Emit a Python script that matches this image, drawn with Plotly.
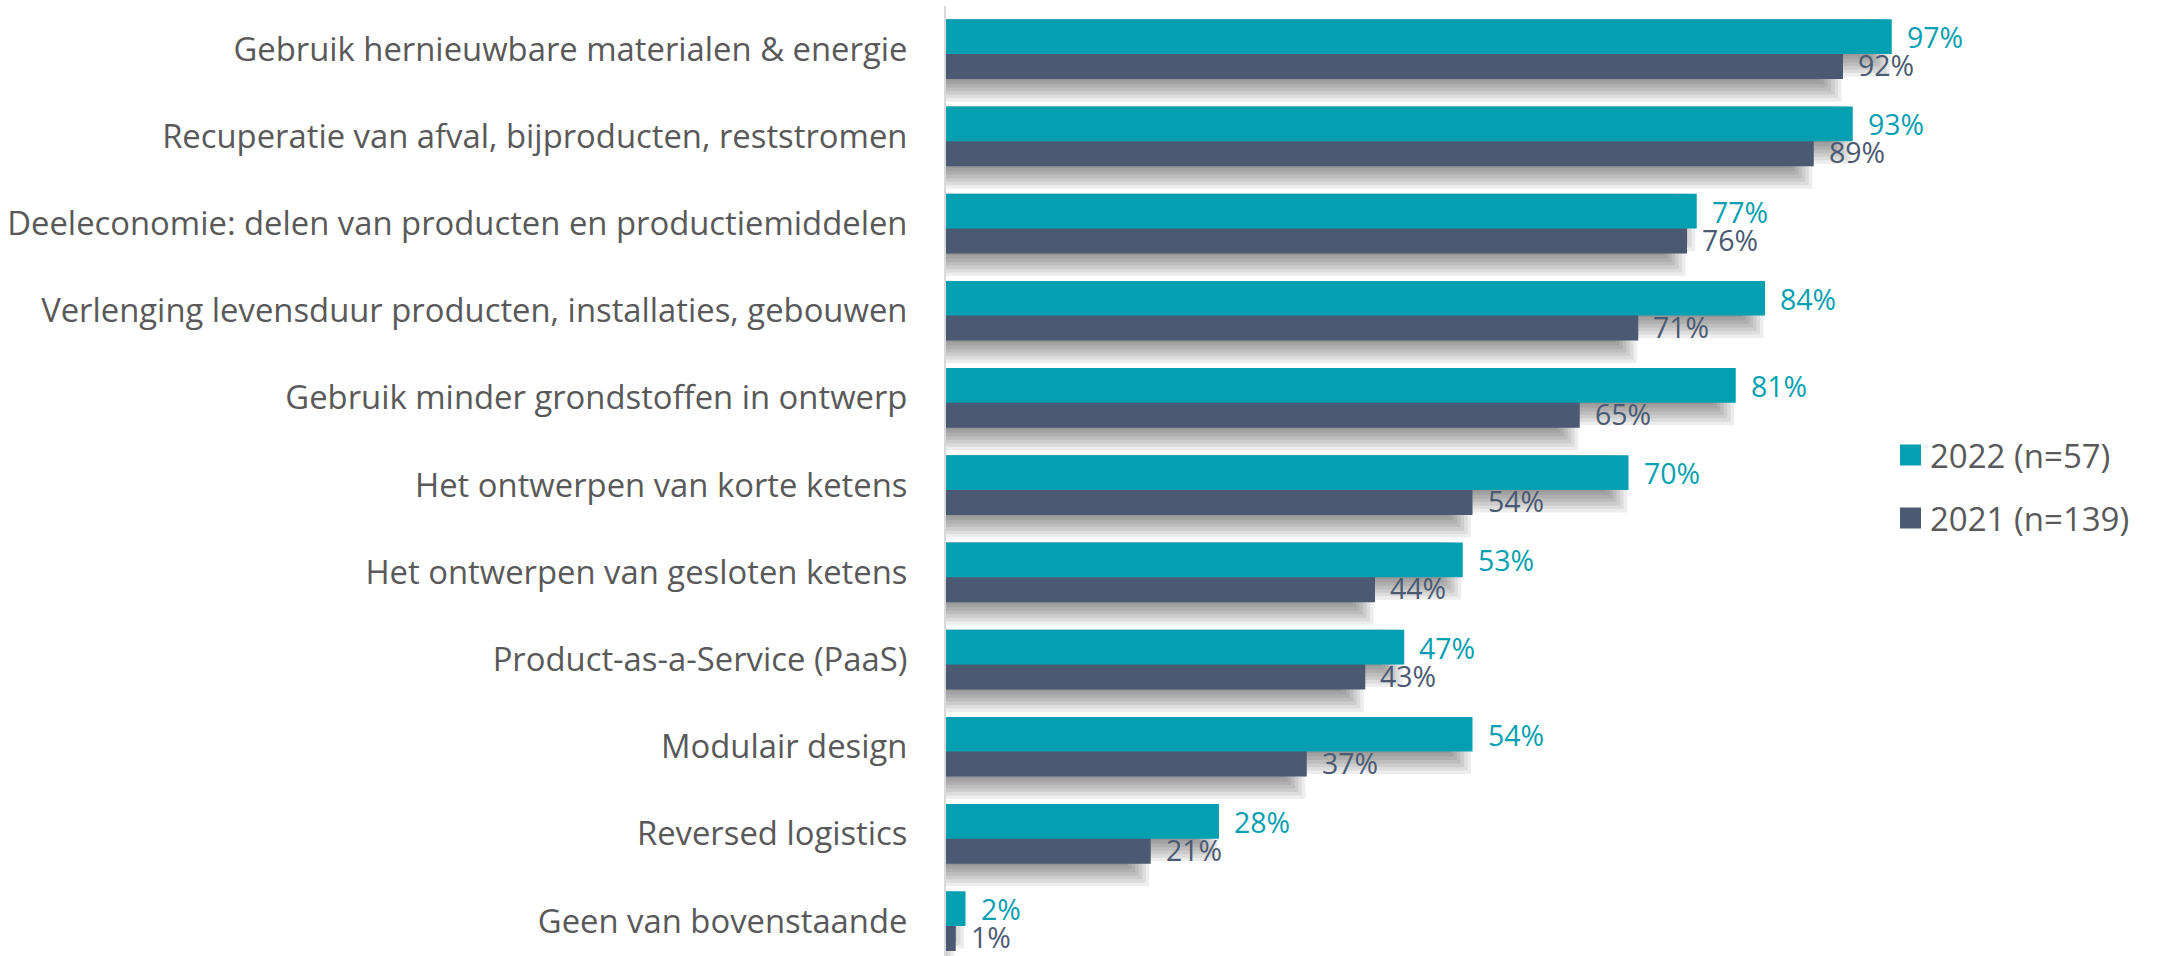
import plotly.graph_objects as go

categories = [
    "Gebruik hernieuwbare materialen & energie",
    "Recuperatie van afval, bijproducten, reststromen",
    "Deeleconomie: delen van producten en productiemiddelen",
    "Verlenging levensduur producten, installaties, gebouwen",
    "Gebruik minder grondstoffen in ontwerp",
    "Het ontwerpen van korte ketens",
    "Het ontwerpen van gesloten ketens",
    "Product-as-a-Service (PaaS)",
    "Modulair design",
    "Reversed logistics",
    "Geen van bovenstaande",
]
values_2022 = [97, 93, 77, 84, 81, 70, 53, 47, 54, 28, 2]
values_2021 = [92, 89, 76, 71, 65, 54, 44, 43, 37, 21, 1]
series_names = ["2022 (n=57)", "2021 (n=139)"]

TEAL = "#049FB1"
SLATE = "#4B5A72"
TEXT = "#595959"
FONT = "Open Sans"

# pixel geometry (figure is 2159 x 956)
W, H = 2159, 956
PLOT_L, PLOT_R = 946, 1921
PLOT_T, PLOT_B = 6, 956
PITCH = 87.2          # px per category
FIRST_CENTER = 49.2   # px of the first category centre
PX_PER_PCT = (PLOT_R - PLOT_L) / 100

BAR_W = 0.398
OFF_TEAL = -0.343
OFF_SLATE = -0.056

fig = go.Figure()


def add_shadow(vals, offset):
    # blurred drop shadow faked with stacked translucent bars
    for b in [-10.5, -7, -3.5, 0, 3.5, 7, 10.5]:
        extra = (12 + b) / PITCH
        cut = (12 - b) / PX_PER_PCT
        fig.add_trace(go.Bar(
            x=[max(v - cut, 0) for v in vals],
            y=categories,
            orientation="h",
            offset=offset,
            width=BAR_W + extra,
            marker=dict(color="rgba(0,0,0,0.07)", line=dict(width=0)),
            hoverinfo="skip",
            showlegend=False,
        ))


add_shadow(values_2022, OFF_TEAL)
add_shadow(values_2021, OFF_SLATE)

fig.add_trace(go.Bar(
    x=values_2021, y=categories, orientation="h",
    offset=OFF_SLATE, width=BAR_W,
    marker=dict(color=SLATE, line=dict(width=0)),
    name=series_names[1], showlegend=False,
))
fig.add_trace(go.Bar(
    x=values_2022, y=categories, orientation="h",
    offset=OFF_TEAL, width=BAR_W,
    marker=dict(color=TEAL, line=dict(width=0)),
    name=series_names[0], showlegend=False,
))

annotations = []
for vals, col, ysh in [(values_2022, TEAL, 12), (values_2021, SLATE, -16)]:
    for c, v in zip(categories, vals):
        annotations.append(dict(
            x=v, y=c, xref="x", yref="y", text=f"{v}%",
            showarrow=False, xanchor="left", yanchor="middle",
            xshift=13, yshift=ysh,
            font=dict(family=FONT, size=28.5, color=col),
        ))

# legend drawn by hand so the swatches can be as big as in the original
pw = PLOT_R - PLOT_L
ph = PLOT_B - PLOT_T
shapes = []
for name, col, cy in [(series_names[0], TEAL, 455), (series_names[1], SLATE, 518)]:
    yc = 1 - (cy - PLOT_T) / ph
    shapes.append(dict(
        type="rect", xref="paper", yref="paper",
        x0=(1900 - PLOT_L) / pw, x1=(1921 - PLOT_L) / pw,
        y0=yc - 10.5 / ph, y1=yc + 10.5 / ph,
        fillcolor=col, line=dict(width=0),
    ))
    annotations.append(dict(
        x=(1928 - PLOT_L) / pw, y=yc, xref="paper", yref="paper",
        text=name, showarrow=False, xanchor="left", yanchor="middle",
        font=dict(family=FONT, size=33, color=TEXT),
    ))

y_top = (PLOT_T - FIRST_CENTER) / PITCH
y_bot = (PLOT_B - FIRST_CENTER) / PITCH

fig.update_layout(
    width=W, height=H,
    barmode="overlay",
    plot_bgcolor="white", paper_bgcolor="white",
    margin=dict(l=PLOT_L, r=W - PLOT_R, t=PLOT_T, b=H - PLOT_B, pad=0),
    font=dict(family=FONT, color=TEXT),
    showlegend=False,
    annotations=annotations,
    shapes=shapes,
    xaxis=dict(range=[0, 100], visible=False, showgrid=False, zeroline=False),
    yaxis=dict(
        type="category",
        categoryorder="array", categoryarray=categories,
        range=[y_bot, y_top],
        showline=True, linecolor="#D9D9D9", linewidth=2,
        showgrid=False, zeroline=False, ticks="",
        ticklabelstandoff=30,
        tickfont=dict(family=FONT, size=32.8, color=TEXT),
        automargin=False,
    ),
)

fig.write_html(
    "out.html",
    config={"displayModeBar": False},
    post_script="document.body.style.margin='0';",
)
